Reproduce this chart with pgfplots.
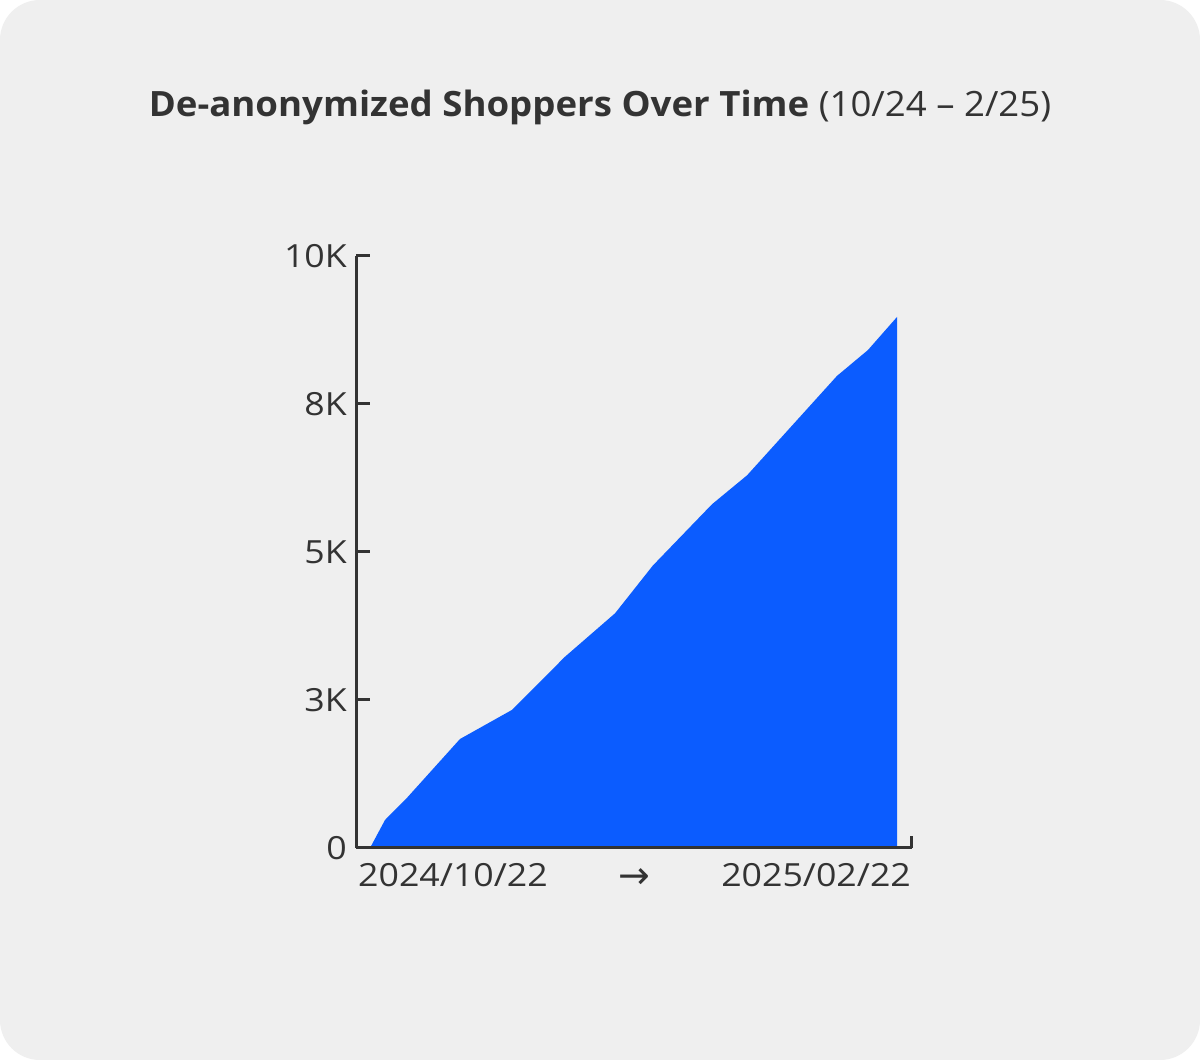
\documentclass[border=0pt]{standalone}
\usepackage{fontspec}
\setmainfont{Open Sans}[FakeStretch=1.12]
\newfontfamily\titlefont{Open Sans}[FakeStretch=1.05]
\newfontfamily\symfont{DejaVu Sans}
\usepackage{pgfplots}
\pgfplotsset{compat=1.18}
\definecolor{bg}{HTML}{EFEFEF}
\definecolor{ink}{HTML}{333333}
\definecolor{areablue}{HTML}{0B5CFF}

\begin{document}
\begin{tikzpicture}[x=1bp,y=1bp]
% card background
\fill[white] (0,0) rectangle (1200,1060);
\fill[bg, rounded corners=40bp] (0,0) rectangle (1200,1060);
\node[anchor=base, text=ink, inner sep=0pt, font=\fontsize{35}{40}\titlefont]
  at (600,943) {\textbf{De-anonymized Shoppers Over Time} (10/24 – 2/25)};

\begin{axis}[
  at={(356bp,212bp)}, anchor=south west,
  scale only axis, width=556bp, height=592bp,
  xmin=-3.27, xmax=126.5, ymin=0, ymax=10000,
  axis lines*=left,
  axis line style={ink, line width=3bp},
  xtick=\empty,
  ytick={0,2500,5000,7500,10000},
  yticklabels={0,3K,5K,8K,10K},
  scaled y ticks=false,
  tick align=inside,
  major tick length=14bp,
  tick style={ink, line width=3bp},
  yticklabel style={font=\fontsize{32}{36}\selectfont, text=ink, inner sep=0pt, anchor=east, xshift=-9bp},
  clip=false,
  axis on top,
]
\addplot[fill=areablue, draw=none] coordinates {
  (0,0) (3.5,473) (8.6,845) (21.0,1841) (33.1,2331) (45.5,3230)
  (57.2,3965) (66.0,4770) (79.8,5805) (88.0,6295) (109.0,7975)
  (116.2,8410) (123,8970)
} \closedcycle;
\end{axis}

\draw[ink, line width=3bp] (911,212) -- (911,224);
\node[anchor=base west, text=ink, inner sep=0pt, font=\fontsize{32}{36}\selectfont] at (358,173) {2024/10/22};
\node[anchor=base, text=ink, inner sep=0pt, font=\fontsize{38}{42}\symfont] at (634,171) {→};
\node[anchor=base east, text=ink, inner sep=0pt, font=\fontsize{32}{36}\selectfont] at (911,173) {2025/02/22};
\end{tikzpicture}
\end{document}
